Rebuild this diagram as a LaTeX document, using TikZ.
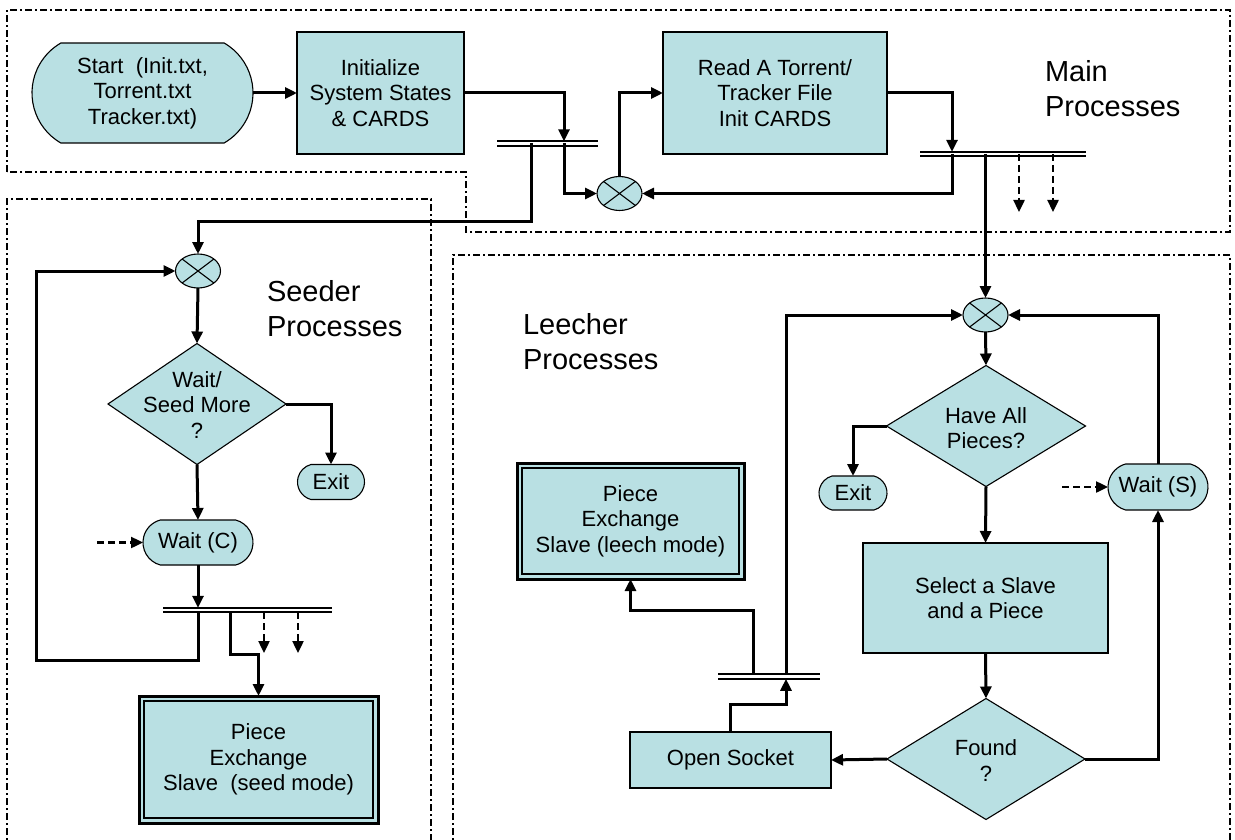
\documentclass[tikz,border=0pt]{standalone}
\usepackage{fontspec}
\setmainfont{Liberation Sans}
\usetikzlibrary{arrows.meta,shapes.misc,shapes.geometric,calc}
\definecolor{boxfill}{RGB}{185,224,227}
\begin{document}
\begin{tikzpicture}[x=1pt,y=-1pt,
  every node/.style={inner sep=0pt, outer sep=0pt},
  txt/.style={font=\fontsize{22}{25.5}\selectfont, align=center},
  procbox/.style={rectangle, draw, line width=1.1pt, fill=boxfill, txt},
  term/.style={rounded rectangle, rounded rectangle arc length=150, draw, line width=1.1pt, fill=boxfill, txt},
  decision/.style={diamond, draw, line width=1.1pt, fill=boxfill},
  orgate/.style={ellipse, draw, line width=1.1pt, fill=boxfill, minimum width=45pt, minimum height=34pt,
    path picture={\draw[line width=1.1pt] (path picture bounding box.north west) -- (path picture bounding box.south east)
      (path picture bounding box.north east) -- (path picture bounding box.south west);}},
  forkbar/.style={minimum height=4.5pt, draw=none},
  barline/.style={line width=2.3pt},
  region/.style={line width=1.4pt, dash pattern=on 7pt off 3pt on 2pt off 3pt},
  arr/.style={line width=3pt, -{Triangle[length=12pt,width=11pt]}},
  darr/.style={line width=2.4pt, dash pattern=on 7pt off 4pt, -{Triangle[length=12pt,width=11pt]}},
  title/.style={font=\fontsize{29}{35}\selectfont, align=left, anchor=west},
]
\useasboundingbox (0,0) rectangle (1235,840);
\clip (0,0) rectangle (1235,840);

% ---------- regions ----------
\draw[region] (7,172) -- (7,10) -- (1230,10) -- (1230,232) -- (466,232) -- (466,172) -- cycle;
\draw[region] (7,850) -- (7,199) -- (431,199) -- (431,850);
\draw[region] (453,850) -- (453,255) -- (1230,255) -- (1230,850);

% ---------- main processes ----------
\node[term, rounded rectangle arc length=120, minimum width=221pt, minimum height=100pt] (start) at (142.5,93) {Start\ \ (Init.txt,\\Torrent.txt\\Tracker.txt)};
\node[procbox, minimum width=167pt, minimum height=122pt] (init) at (380.5,93) {Initialize\\System States\\\& CARDS};
\node[procbox, minimum width=224pt, minimum height=122pt] (read) at (775,93) {Read A Torrent/\\Tracker File\\Init CARDS};
\node[orgate] (or1) at (619.5,193.5) {};
\node[forkbar, minimum width=101pt] (bar1) at (547.5,143.5) {};
\draw[barline] (bar1.north west) -- (bar1.north east) (bar1.south west) -- (bar1.south east);
\node[forkbar, minimum width=166pt] (bar2) at (1003,154) {};
\draw[barline] (bar2.north west) -- (bar2.north east) (bar2.south west) -- (bar2.south east);
\node[title] (mainlbl) at (1045,89) {Main\\Processes};

\coordinate (b1in) at (564,141.3);
\coordinate (b1out) at (564,143.5);
\coordinate (b1seed) at (531,143.5);
\coordinate (b2in) at (952,151.8);
\coordinate (b2out) at (952,154);
\coordinate (b2leech) at (985.5,154);
\coordinate (b2d1) at (1019,154);
\coordinate (b2d2) at (1053,154);

\draw[arr] (start.east) -- (init.west);
\draw[arr] (init.east) -| (b1in);
\draw[arr] (b1out) |- (or1.west);
\draw[arr] (or1.north) |- (read.west);
\draw[arr] (read.east) -| (b2in);
\draw[arr] (b2out) |- (or1.east);
\draw[darr] (b2d1) -- ++(0,58);
\draw[darr] (b2d2) -- ++(0,58);

% ---------- seeder processes ----------
\node[orgate] (or2) at (198,271) {};
\node[decision, minimum width=178pt, minimum height=121pt] (dia1) at (197,404) {};
\node[txt] (dia1t) at (197,405) {Wait/\\Seed More\\?};
\node[term, minimum width=67pt, minimum height=35pt] (exit1) at (331,482) {Exit};
\node[term, minimum width=110pt, minimum height=45pt] (waitc) at (198,542.5) {Wait (C)};
\node[forkbar, minimum width=169pt] (bar3) at (247.5,610) {};
\draw[barline] (bar3.north west) -- (bar3.north east) (bar3.south west) -- (bar3.south east);
\node[procbox, line width=3pt, minimum width=239pt, minimum height=127pt] (seed) at (258.5,759.5) {Piece\\Exchange\\Slave\ \ (seed mode)};
\draw[line width=1.1pt] ([shift={(5,5)}]seed.north west) rectangle ([shift={(-5,-5)}]seed.south east);
\node[title] (seedlbl) at (267,309) {Seeder\\Processes};

\coordinate (b3in) at (198,607.8);
\coordinate (b3loop) at (198,612);
\coordinate (b3slave) at (230,612);
\coordinate (b3d1) at (264,612);
\coordinate (b3d2) at (298,612);
\coordinate (wcin) at (97,542.5);

\draw[arr] (b1seed) -- ++(0,77.5) -| (or2.north);
\draw[arr] (or2.south) -- (dia1.north);
\draw[arr] (dia1.east) -| (exit1.north);
\draw[arr] (dia1.south) -- (waitc.north);
\draw[darr] (wcin) -- (waitc.west);
\draw[arr] (waitc.south) -- (b3in);
\draw[arr] (b3loop) |- (36,660) |- (or2.west);
\draw[arr] (b3slave) -- ++(0,42) -| (seed.north);
\draw[darr] (b3d1) -- ++(0,41);
\draw[darr] (b3d2) -- ++(0,41);

% ---------- leecher processes ----------
\node[title] (leechlbl) at (523,342) {Leecher\\Processes};
\node[orgate] (or3) at (985.5,315) {};
\node[decision, minimum width=199pt, minimum height=121pt] (dia2) at (986,426) {};
\node[txt] (dia2t) at (986,428) {Have All\\Pieces?};
\node[term, minimum width=68pt, minimum height=34pt] (exit2) at (853,493) {Exit};
\node[term, minimum width=100pt, minimum height=46pt] (waits) at (1158,487) {Wait (S)};
\node[procbox, minimum width=245pt, minimum height=110pt] (select) at (985.5,598) {Select a Slave\\and a Piece};
\node[decision, minimum width=198pt, minimum height=121pt] (dia3) at (986,759) {};
\node[txt] (dia3t) at (986,760.5) {Found\\?};
\node[procbox, minimum width=201pt, minimum height=56pt] (sock) at (730.5,760) {Open Socket};
\node[forkbar, minimum width=102pt] (bar4) at (769,676.5) {};
\draw[barline] (bar4.north west) -- (bar4.north east) (bar4.south west) -- (bar4.south east);
\node[procbox, line width=3pt, minimum width=227pt, minimum height=116pt] (leech) at (630.5,521) {Piece\\Exchange\\Slave (leech mode)};
\draw[line width=1.1pt] ([shift={(5,5)}]leech.north west) rectangle ([shift={(-5,-5)}]leech.south east);

\coordinate (b4in) at (786,678.8);
\coordinate (b4loop) at (786,674.3);
\coordinate (b4slave) at (753,674.3);
\coordinate (wsin) at (1062,487);

\draw[arr] (b2leech) -- (or3.north);
\draw[arr] (or3.south) -- (dia2.north);
\draw[arr] (dia2.west) -| (exit2.north);
\draw[arr] (dia2.south) -- (select.north);
\draw[arr] (select.south) -- (dia3.north);
\draw[arr] (dia3.west) -- (sock.east);
\draw[arr] (dia3.east) -| (waits.south);
\draw[arr] (waits.north) |- (or3.east);
\draw[darr] (wsin) -- (waits.west);
\draw[arr] (sock.north) -- ++(0,-28) -| (b4in);
\draw[arr] (b4loop) |- (or3.west);
\draw[arr] (b4slave) -- ++(0,-64) -| (leech.south);
\end{tikzpicture}
\end{document}
